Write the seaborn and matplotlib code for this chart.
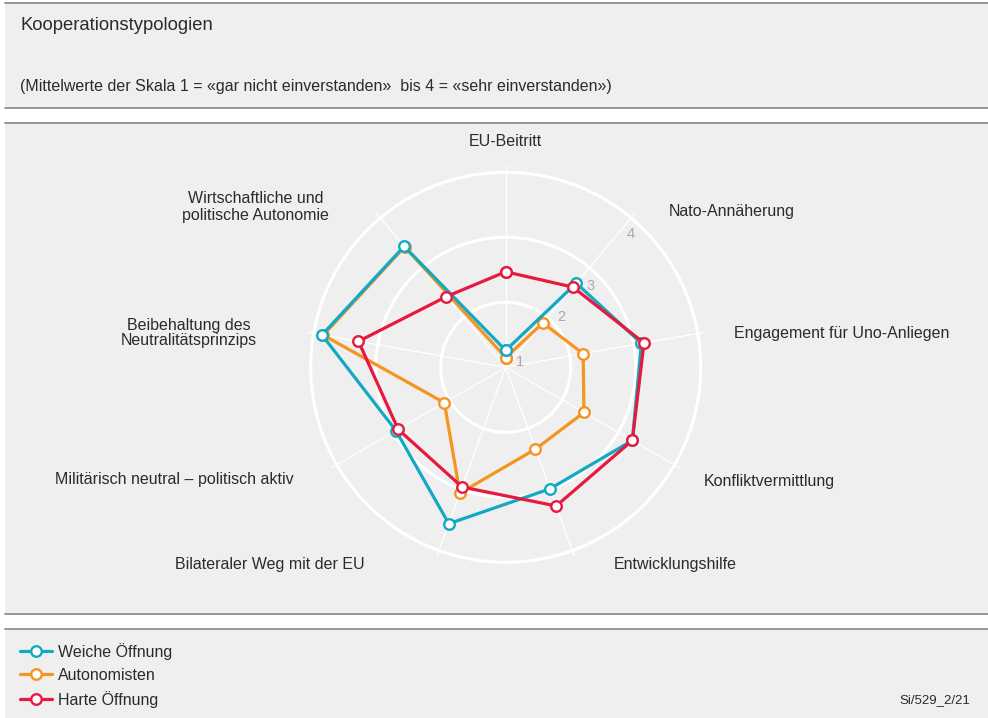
import numpy as np
import pandas as pd
import matplotlib
matplotlib.use("Agg")
import matplotlib.pyplot as plt
import seaborn as sns
from matplotlib.patches import Rectangle
from matplotlib.lines import Line2D

# data (scale 1-4)
categories = ["EU-Beitritt", "Nato-Annäherung", "Engagement für Uno-Anliegen",
              "Konfliktvermittlung", "Entwicklungshilfe", "Bilateraler Weg mit der EU",
              "Militärisch neutral – politisch aktiv",
              "Beibehaltung des\nNeutralitätsprinzips",
              "Wirtschaftliche und\npolitische Autonomie"]
weiche = [1.26, 2.69, 3.12, 3.25, 2.99, 3.56, 2.95, 3.87, 3.43]
autonomisten = [1.15, 1.89, 2.21, 2.39, 2.34, 3.06, 2.09, 3.85, 3.42]
harte = [2.47, 2.61, 3.16, 3.25, 3.27, 2.96, 2.91, 3.30, 2.42]
series_names = ["Weiche Öffnung", "Autonomisten", "Harte Öffnung"]
colors = ["#12a9c2", "#f5941e", "#e6193f"]
r_ticks = [1, 2, 3, 4]

W, H = 988, 718

sns.set_style("white")
plt.rcParams['font.family'] = ['Liberation Sans', 'DejaVu Sans']
TXT = "#2b2b2b"
FS = 11.5

n = len(categories)
angles = np.arange(n) * 2 * np.pi / n

rows = []
for name, vals in zip(series_names, [weiche, autonomisten, harte]):
    for k in range(n + 1):
        rows.append({"group": name, "theta": 2 * np.pi * k / n if k < n else 2 * np.pi,
                     "value": vals[k % n]})
df = pd.DataFrame(rows)
palette = dict(zip(series_names, colors))


def fx(x):
    return x / W


def fy(y):
    return 1 - y / H


fig = plt.figure(figsize=(W / 100, H / 100), dpi=100, facecolor="white")

# panel backgrounds and rules
bg = "#efefef"
for top, bottom in [(3, 107), (123, 613), (630, 718)]:
    fig.patches.append(Rectangle((fx(5), fy(bottom)), 1 - fx(5), (bottom - top) / H,
                                 transform=fig.transFigure, facecolor=bg, edgecolor="none", zorder=-2))
for y in [2.5, 107.5, 122.5, 614, 629]:
    fig.add_artist(Line2D([fx(5), 1], [fy(y), fy(y)], color="#8e8e8e", lw=1.3, zorder=-1))

fig.text(fx(20), fy(25), "Kooperationstypologien", fontsize=13.3, color=TXT, va="center")
fig.text(fx(20), fy(87), "(Mittelwerte der Skala 1 = «gar nicht einverstanden»  bis 4 = «sehr einverstanden»)",
         fontsize=FS, color=TXT, va="center")
fig.text(fx(970), fy(700), "Si/529_2/21", fontsize=9.5, color=TXT, ha="right", va="center")

# polar axes: centre (505.7, 367.3), 65 px per scale unit
cx, cy, unit = 505.7, 367.3, 65.0
rmax = 4.1
rad = (rmax - 1) * unit
ax = fig.add_axes([fx(cx - rad), fy(cy + rad), 2 * rad / W, 2 * rad / H], projection="polar")
ax.set_theta_offset(np.pi / 2)
ax.set_theta_direction(-1)
ax.set_facecolor("none")
ax.spines["polar"].set_visible(False)

sns.lineplot(data=df, x="theta", y="value", hue="group",
             hue_order=["Autonomisten", "Weiche Öffnung", "Harte Öffnung"],
             palette=palette, sort=False, estimator=None, marker="o",
             markersize=7.6, linewidth=2.3, legend=False, ax=ax)
for i, line in enumerate(ax.lines):
    line.set_markeredgecolor(line.get_color())
    line.set_markerfacecolor("white")
    line.set_markeredgewidth(1.7)
    line.set_zorder(3 + i)

ax.set_ylim(1, rmax)
ax.set_yticks(r_ticks[1:])
ax.set_yticklabels([])
ax.set_xticks(angles)
ax.set_xticklabels([])
ax.set_xlabel("")
ax.set_ylabel("")
ax.yaxis.grid(True, color="white", linewidth=2.2)
ax.xaxis.grid(True, color="white", linewidth=0.9)

# radial scale labels
for t, a, r in zip(r_ticks, [70, 48, 46, 43], [1.235, 2.15, 2.81, 3.81]):
    ax.text(np.deg2rad(a), r, str(t), color="#a9a9a9", fontsize=10.5,
            ha="center", va="center", zorder=2)

# category labels (angle, radius, alignment, line spacing)
label_pos = [(0, 4.48, "center", 1.1), (46.2, 4.47, "left", 1.1), (81.5, 4.55, "left", 1.1),
             (119.8, 4.52, "left", 1.1), (139.4, 5.0, "center", 1.1), (215.6, 4.74, "right", 1.1),
             (242.1, 4.70, "right", 1.1), (277.9, 4.86, "right", 0.95), (312.2, 4.67, "right", 1.2)]
for lab, (a, r, ha, ls) in zip(categories, label_pos):
    ax.text(np.deg2rad(a), r, lab, fontsize=FS, color=TXT, ha=ha, va="center",
            multialignment="center", linespacing=ls, clip_on=False)

# legend
handles = [Line2D([], [], color=c, lw=2.3, marker="o", markersize=7.6,
                  markerfacecolor="white", markeredgecolor=c, markeredgewidth=1.7)
           for c in colors]
fig.legend(handles, series_names, loc="upper left", bbox_to_anchor=(fx(20), fy(643)),
           frameon=False, fontsize=FS, handlelength=2.0, handletextpad=0.35,
           labelspacing=0.5, borderpad=0, borderaxespad=0, labelcolor=TXT)

fig.savefig("out.png", dpi=100, facecolor="white")
